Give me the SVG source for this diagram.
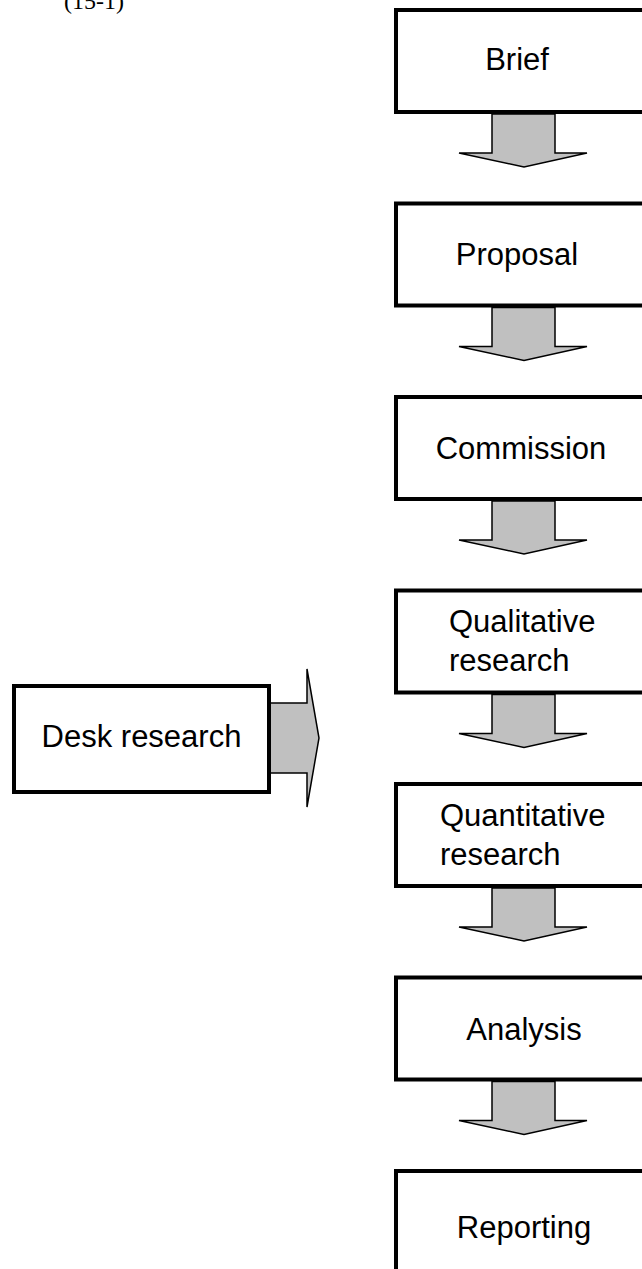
<svg xmlns="http://www.w3.org/2000/svg" width="642" height="1269" viewBox="0 0 642 1269">
<style>
.box{fill:#fff;stroke:#000;stroke-width:4}
.arr{fill:#c0c0c0;stroke:#000;stroke-width:1.5;stroke-linejoin:miter}
.lbl{font-family:"Liberation Sans",Arial,sans-serif;font-size:31px;fill:#000}
.mid{text-anchor:middle}
</style>
<rect width="642" height="1269" fill="#fff"/>
<text x="64" y="9" font-family="'Liberation Serif','Times New Roman',serif" font-size="24" fill="#000">(15-1)</text>
<g id="connectors">
<polygon class="arr" points="492,114 555,114 555,153 587,153 524,167 459,153 492,153"/>
<polygon class="arr" points="492,307.5 555,307.5 555,346.5 587,346.5 524,360.5 459,346.5 492,346.5"/>
<polygon class="arr" points="492,501 555,501 555,540 587,540 524,554 459,540 492,540"/>
<polygon class="arr" points="492,694.5 555,694.5 555,733.5 587,733.5 524,747.5 459,733.5 492,733.5"/>
<polygon class="arr" points="492,888 555,888 555,927 587,927 524,941 459,927 492,927"/>
<polygon class="arr" points="492,1081.5 555,1081.5 555,1120.5 587,1120.5 524,1134.5 459,1120.5 492,1120.5"/>
<polygon class="arr" points="270,703 307,703 307,669 319,738 307,807 307,773 270,773"/>
</g>
<g id="brief"><rect class="box" x="396" y="10" width="260" height="102"/><text class="lbl mid" x="517" y="70">Brief</text></g>
<g id="proposal"><rect class="box" x="396" y="203.5" width="260" height="102"/><text class="lbl mid" x="517" y="265">Proposal</text></g>
<g id="commission"><rect class="box" x="396" y="397" width="260" height="102"/><text class="lbl mid" x="521" y="459">Commission</text></g>
<g id="qualitative"><rect class="box" x="396" y="590.5" width="260" height="102"/><text class="lbl" x="449" y="632">Qualitative</text><text class="lbl" x="449" y="671">research</text></g>
<g id="quantitative"><rect class="box" x="396" y="784" width="260" height="102"/><text class="lbl" x="440" y="826">Quantitative</text><text class="lbl" x="440" y="865">research</text></g>
<g id="analysis"><rect class="box" x="396" y="977.5" width="260" height="102"/><text class="lbl mid" x="524" y="1040">Analysis</text></g>
<g id="reporting"><rect class="box" x="396" y="1171" width="260" height="120"/><text class="lbl mid" x="524" y="1238">Reporting</text></g>
<g id="desk"><rect class="box" x="14" y="686" width="255" height="106"/><text class="lbl mid" x="141.5" y="747">Desk research</text></g>
</svg>
